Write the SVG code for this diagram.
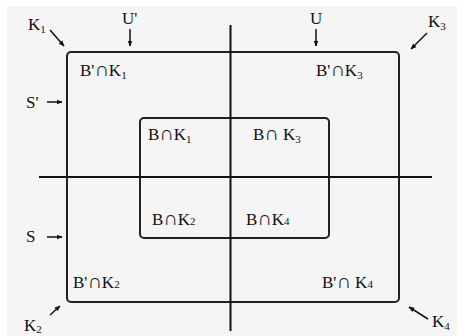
<svg xmlns="http://www.w3.org/2000/svg" width="467" height="336" viewBox="0 0 467 336">
<defs>
<marker id="ah" viewBox="0 0 10 10" refX="9" refY="5" markerWidth="6" markerHeight="6" orient="auto" markerUnits="userSpaceOnUse">
<path d="M0,1 L10,5 L0,9 z" fill="#111"/>
</marker>
<style>
.t{font-family:"Liberation Serif","Times New Roman",serif;font-size:17px;fill:#111}
.s{font-size:11px}
.c{font-size:20px}
.box{fill:none;stroke:#222;stroke-width:2}
.ln{stroke:#111;stroke-width:2;fill:none}
.ar{stroke:#111;stroke-width:1.5;fill:none;marker-end:url(#ah)}
</style>
</defs>
<rect x="0" y="0" width="467" height="336" fill="#ffffff"/>
<rect x="7" y="6" width="450" height="330" fill="#f5f5f5"/>
<g id="outer"><rect class="box" x="67" y="52" width="332" height="250" rx="4"/></g>
<g id="inner"><rect class="box" x="140" y="118" width="189" height="120" rx="4"/></g>
<g id="connectors">
<line class="ln" x1="230.5" y1="25" x2="230.5" y2="331"/>
<line class="ln" x1="39" y1="177" x2="432" y2="177"/>
<line class="ar" x1="50" y1="30" x2="64" y2="46"/>
<line class="ar" x1="130" y1="29" x2="130" y2="46"/>
<line class="ar" x1="316" y1="29" x2="316" y2="46"/>
<line class="ar" x1="427" y1="33" x2="411" y2="49"/>
<line class="ar" x1="47" y1="102" x2="62" y2="102"/>
<line class="ar" x1="47" y1="237" x2="62" y2="237"/>
<line class="ar" x1="50" y1="315" x2="60" y2="306"/>
<line class="ar" x1="428" y1="319" x2="409" y2="307"/>
</g>
<g id="K1"><text class="t" x="28" y="30">K<tspan class="s" dy="3">1</tspan></text></g>
<g id="Uprime"><text class="t" x="122" y="24">U'</text></g>
<g id="U"><text class="t" x="310" y="24">U</text></g>
<g id="K3"><text class="t" x="428" y="27">K<tspan class="s" dy="3">3</tspan></text></g>
<g id="Sprime"><text class="t" x="26" y="108">S'</text></g>
<g id="S"><text class="t" x="26" y="242">S</text></g>
<g id="K2"><text class="t" x="24" y="331">K<tspan class="s" dy="2">2</tspan></text></g>
<g id="K4"><text class="t" x="432" y="327">K<tspan class="s" dy="3">4</tspan></text></g>
<g id="BpK1"><text class="t" x="80" y="76">B'<tspan class="c">∩</tspan>K<tspan class="s" dy="3">1</tspan></text></g>
<g id="BpK3"><text class="t" x="316" y="76">B'<tspan class="c">∩</tspan>K<tspan class="s" dy="3">3</tspan></text></g>
<g id="BK1"><text class="t" x="148" y="140">B<tspan class="c">∩</tspan>K<tspan class="s" dy="3">1</tspan></text></g>
<g id="BK3"><text class="t" x="253" y="140">B<tspan class="c">∩</tspan> K<tspan class="s" dy="3">3</tspan></text></g>
<g id="BK2"><text class="t" x="152" y="225">B<tspan class="c">∩</tspan>K<tspan class="s">2</tspan></text></g>
<g id="BK4"><text class="t" x="246" y="225">B<tspan class="c">∩</tspan>K<tspan class="s">4</tspan></text></g>
<g id="BpK2"><text class="t" x="73" y="288">B'<tspan class="c">∩</tspan>K<tspan class="s">2</tspan></text></g>
<g id="BpK4"><text class="t" x="322" y="288">B'<tspan class="c">∩</tspan> K<tspan class="s">4</tspan></text></g>
</svg>
